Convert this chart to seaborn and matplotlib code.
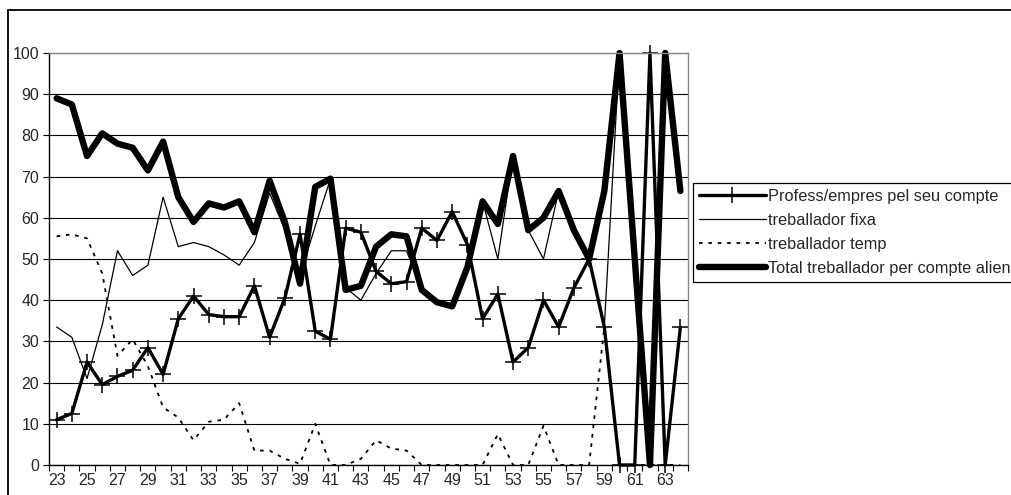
import numpy as np
import pandas as pd
import seaborn as sns
import matplotlib
import matplotlib.pyplot as plt
from matplotlib.patches import Rectangle

matplotlib.use('Agg')

ages = list(range(23, 65))
x_labels = [str(a) for a in range(23, 65, 2)]

profess = [11, 12.5, 25, 19.5, 21.5, 23, 28.5, 22, 35.5, 41, 36.5, 36, 36, 43.5,
           31, 40.5, 56, 32.5, 30.5, 57.5, 56.5, 47, 44, 44.5, 57.5, 54.5, 61.5,
           53.5, 35.5, 41.5, 25, 28.5, 40, 33.5, 43, 50, 33.5, 0, 0, 100, 0, 33.5]
fixa = [33.5, 31, 21, 34, 52, 46, 48.5, 65, 53, 54, 53, 51, 48.5, 54, 66, 57,
        46, 58, 69.5, 43, 40, 46.5, 52, 52, 42.5, 39.5, 38.5, 48, 64, 50, 75,
        57, 50, 66.5, 57, 50, 33.5, 100, 50, 0, 100, 66.5]
temp = [55.5, 56, 55, 46.5, 26.5, 30.5, 24, 14, 11.5, 6, 10.5, 11, 15, 3.5, 3.5,
        1.5, 0.3, 10, 0, 0, 1.5, 6, 4, 3.5, 0, 0, 0, 0, 0, 7.5, 0, 0, 9.5, 0, 0,
        0, 33.5, 0, 0, 0, 0, 0]
total = [89, 87.5, 75, 80.5, 78, 77, 71.5, 78.5, 65, 59, 63.5, 62.5, 64, 56.5,
         69, 59, 44, 67.5, 69.5, 42.5, 43.5, 53, 56, 55.5, 42.5, 39.5, 38.5, 48,
         64, 58.5, 75, 57, 60, 66.5, 57, 50, 66.5, 100, 50, 0, 100, 66.5]

names = ['Profess/empres pel seu compte', 'treballador fixa',
         'treballador temp', 'Total treballador per compte aliena']

df = pd.DataFrame({'edat': ages, names[0]: profess, names[1]: fixa,
                   names[2]: temp, names[3]: total})
df = df.melt('edat', var_name='serie', value_name='pct')

sns.set_style('white')
plt.rcParams['font.family'] = ['Liberation Sans', 'DejaVu Sans']
plt.rcParams['font.size'] = 11.5

fig = plt.figure(figsize=(10.11, 4.95), dpi=100)
ax = fig.add_axes([49 / 1011, 30 / 495, 639 / 1011, 412 / 495])

styles = {
    names[0]: dict(lw=2.4, marker='+', markersize=12, markeredgewidth=1.1,
                   markeredgecolor='black'),
    names[1]: dict(lw=0.9),
    names[2]: dict(lw=1.3, linestyle=(0, (2, 3.2))),
    names[3]: dict(lw=4.6, solid_joinstyle='round', solid_capstyle='round'),
}
for n in names:
    sns.lineplot(data=df[df['serie'] == n], x='edat', y='pct', color='black',
                 ax=ax, label=n, clip_on=False, **styles[n])

ax.set_xlim(22.5, 64.5)
ax.set_ylim(0, 100)
ax.set_yticks(range(0, 101, 10))
ax.set_xticks(range(23, 65, 2))
ax.set_xticklabels(x_labels)
ax.set_xticks(np.arange(22.5, 65, 1), minor=True)
ax.tick_params(axis='x', which='major', length=0, pad=6, labelsize=11.5)
ax.tick_params(axis='x', which='minor', length=4, width=0.8, color='black',
               direction='out', bottom=True)
ax.tick_params(axis='y', length=4, width=0.8, color='black', direction='out',
               left=True, pad=3, labelsize=11.5)
ax.set_xlabel('')
ax.set_ylabel('')
ax.yaxis.grid(True, color='black', lw=0.8)
ax.set_axisbelow(True)
for s in ['left', 'bottom']:
    ax.spines[s].set_color('black')
    ax.spines[s].set_linewidth(1.0)
for s in ['top', 'right']:
    ax.spines[s].set_color('#888888')
    ax.spines[s].set_linewidth(1.0)

ax.legend(loc='upper left', bbox_to_anchor=(693 / 1011, 1 - 183 / 495),
          bbox_transform=fig.transFigure, frameon=True, fancybox=False,
          edgecolor='black', framealpha=1, borderaxespad=0, borderpad=0.35,
          handlelength=4.1, handletextpad=0.1, labelspacing=0.55, numpoints=1,
          fontsize=11.8).get_frame().set_linewidth(0.9)

fig.patches.append(Rectangle((8 / 1011, -0.1), 1.2, 1.1 - 10 / 495,
                             transform=fig.transFigure, fill=False,
                             ec='black', lw=1.3))

plt.savefig('out.png', dpi=100)
